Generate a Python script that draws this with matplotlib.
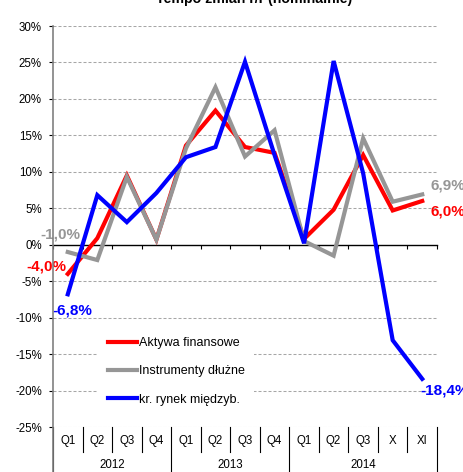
import matplotlib
matplotlib.use("Agg")
import matplotlib.pyplot as plt
from matplotlib.lines import Line2D
import numpy as np

plt.rcParams['font.family'] = ['Liberation Sans', 'DejaVu Sans']

# categories (quarters, then months X and XI of 2014)
quarters = ['Q1', 'Q2', 'Q3', 'Q4', 'Q1', 'Q2', 'Q3', 'Q4', 'Q1', 'Q2', 'Q3', 'X', 'XI']
years = ['2012', '2013', '2014']
year_spans = [(0, 4), (4, 8), (8, 13)]

# y/y growth, %
aktywa = [-4.0, 0.9, 9.5, 0.7, 13.6, 18.4, 13.4, 12.6, 0.8, 4.8, 12.3, 4.7, 6.0]
instrumenty = [-1.0, -2.1, 9.3, 0.7, 13.2, 21.6, 12.1, 15.7, 0.5, -1.5, 14.6, 5.9, 6.9]
rynek = [-6.8, 6.8, 3.1, 7.1, 12.0, 13.4, 25.1, 12.3, 0.2, 25.2, 9.8, -13.1, -18.4]

series_names = ['Aktywa finansowe', 'Instrumenty dłużne', 'kr. rynek międzyb.']
series_colors = ['#ff0000', '#969696', '#0000ff']

yticks = list(range(-25, 31, 5))

W, H = 464, 472
fig = plt.figure(figsize=(W / 100, H / 100), dpi=100)
ax_l, ax_r, ax_t, ax_b = 53, 437, 26, 427
ax = fig.add_axes([ax_l / W, 1 - ax_b / H, (ax_r - ax_l) / W, (ax_b - ax_t) / H])

x = np.arange(len(quarters))
for vals, name, col in zip([aktywa, instrumenty, rynek], series_names, series_colors):
    ax.plot(x, vals, color=col, lw=3.0, label=name, zorder=3,
            solid_joinstyle='miter', clip_on=False)

ax.set_xlim(-0.5, len(quarters) - 0.5)
ax.set_ylim(-25, 30)

# dashed grid
for v in yticks:
    if v != 0:
        ax.axhline(v, color='#a6a6a6', lw=0.75, ls=(0, (2.88, 1.92)), zorder=1)

ax.set_yticks(yticks)
ax.set_yticklabels([f'{v}%' for v in yticks], fontsize=8.3)
ax.tick_params(axis='y', direction='out', length=3, width=0.8, pad=5, colors='black')

# zero line as category axis with ticks at boundaries
bounds = np.arange(len(quarters) + 1) - 0.5
ax.spines['bottom'].set_position(('data', 0))
ax.spines['bottom'].set_color('black')
ax.spines['bottom'].set_linewidth(1.0)
ax.set_xticks(bounds)
ax.tick_params(axis='x', direction='out', length=3, width=0.8, labelbottom=False)
for s in ['top', 'right', 'left']:
    ax.spines[s].set_visible(False)

# left axis line running down to the bottom of the figure
fig.add_artist(Line2D([ax_l / W] * 2, [0, 1 - ax_t / H], color='#808080', lw=1.2))

# multi-level category labels below the plot
tr = ax.get_xaxis_transform()
px = 1.0 / (ax_b - ax_t)
year_edges = [s for s, e in year_spans] + [len(quarters)]
for i, b in enumerate(bounds):
    if i in year_edges:
        continue
    ax.plot([b, b], [0, -25 * px], transform=tr, color='black', lw=0.8, clip_on=False)
for e in year_edges:
    ax.plot([e - 0.5] * 2, [0, -(H - ax_b) * px], transform=tr, color='black', lw=0.8,
            clip_on=False)
for i, q in enumerate(quarters):
    ax.text(i, -14 * px, q, transform=tr, ha='center', va='center', fontsize=8.3)
for yr, (s, e) in zip(years, year_spans):
    ax.text((s + e - 1) / 2, -38 * px, yr, transform=tr, ha='center', va='center',
            fontsize=8.3)

# data labels at first and last points
def lab(xi, v, col, dx, dy, ha):
    ax.annotate(f'{v:.1f}%'.replace('.', ','), (xi, v), xytext=(dx, dy),
                textcoords='offset points', ha=ha, va='center', color=col,
                fontsize=11, fontweight='bold', annotation_clip=False, zorder=4)

last = len(quarters) - 1
lab(0, instrumenty[0], series_colors[1], -5.6, 12.7, 'center')
lab(0, aktywa[0], series_colors[0], -15.7, 5.3, 'center')
lab(0, rynek[0], series_colors[2], 3, -11.5, 'center')
lab(last, instrumenty[-1], series_colors[1], 6, 6.7, 'left')
lab(last, aktywa[-1], series_colors[0], 6, -7.9, 'left')
lab(last, rynek[-1], series_colors[2], -1.2, -8.4, 'left')

leg = ax.legend(loc='upper left', bbox_to_anchor=(0.117, 0.249), borderaxespad=0,
                fontsize=9, frameon=True, fancybox=False, edgecolor='none',
                facecolor='white', framealpha=1, handlelength=2.3,
                handletextpad=0.15, labelspacing=1.3, borderpad=0.8)
leg.set_zorder(5)

fig.text(254 / W, 1 - 3 / H, 'Tempo zmian r/r (nominalnie)', ha='center',
         va='baseline', fontsize=10.2, fontweight='bold')

fig.savefig('out.png', dpi=100)
